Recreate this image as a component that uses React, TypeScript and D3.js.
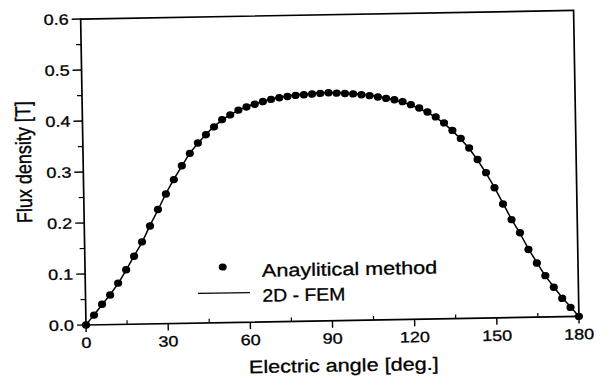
import React from "react";
import * as d3 from "d3";

const angles: number[] = d3.range(0, 181, 3);
const analytical: number[] = [
  0.0, 0.019, 0.04, 0.058, 0.081, 0.107, 0.133, 0.161, 0.192, 0.224, 0.254,
  0.282, 0.309, 0.333, 0.353, 0.369, 0.384, 0.398, 0.407, 0.416, 0.422,
  0.427, 0.432, 0.436, 0.439, 0.441, 0.443, 0.444, 0.445, 0.446, 0.447,
  0.446, 0.445, 0.444, 0.442, 0.44, 0.437, 0.434, 0.431, 0.427, 0.421,
  0.414, 0.406, 0.396, 0.384, 0.369, 0.353, 0.334, 0.311, 0.285, 0.255,
  0.223, 0.192, 0.166, 0.133, 0.106, 0.081, 0.058, 0.036, 0.018, 0.0,
];
const fem: number[] = [
  0.0, 0.02, 0.039, 0.059, 0.08, 0.106, 0.134, 0.16, 0.193, 0.223, 0.255,
  0.283, 0.308, 0.334, 0.352, 0.37, 0.385, 0.397, 0.408, 0.415, 0.423,
  0.428, 0.432, 0.437, 0.44, 0.442, 0.444, 0.445, 0.446, 0.447, 0.447,
  0.447, 0.446, 0.444, 0.443, 0.441, 0.438, 0.435, 0.43, 0.426, 0.42,
  0.413, 0.405, 0.395, 0.383, 0.368, 0.352, 0.333, 0.31, 0.284, 0.256,
  0.224, 0.193, 0.165, 0.134, 0.107, 0.08, 0.059, 0.037, 0.019, 0.0,
];
const xTicks: number[] = [0, 30, 60, 90, 120, 150, 180];
const xMinor: number[] = [15, 45, 75, 105, 135, 165];
const yTicks: number[] = [0, 0.1, 0.2, 0.3, 0.4, 0.5, 0.6];
const yMinor: number[] = [0.05, 0.15, 0.25, 0.35, 0.45, 0.55];
const xTitle = "Electric angle [deg.]";
const yTitle = "Flux density [T]";
const legendLabels = ["Anaylitical method", "2D - FEM"];

const L = 86, B = 325, R = 579, T = 19;
const SX = 1.2;
const FONT = "'Liberation Sans', Arial, Helvetica, sans-serif";

function HText(props: { x: number; y: number; size: number; anchor?: string; sx?: number; children: React.ReactNode }) {
  return (
    <text
      transform={`translate(${props.x},${props.y}) scale(${props.sx ?? SX},1)`}
      fontSize={props.size}
      fontFamily={FONT}
      textAnchor={props.anchor || "start"}
      fill="#000"
      stroke="#000"
      strokeWidth={0.3}
    >
      {props.children}
    </text>
  );
}

export default function App() {
  const x = d3.scaleLinear().domain([0, 180]).range([L, R]);
  const y = d3.scaleLinear().domain([0, 0.6]).range([B, T]);
  const line = d3
    .line<number>()
    .x((_, i) => x(angles[i]))
    .y((d) => y(d));

  return (
    <svg
      width={608}
      height={376}
      style={{ position: "absolute", left: 0, top: 0, background: "#fff" }}
    >
      <rect width={608} height={376} fill="#fff" />
      <g transform={`rotate(-1, ${L}, ${B})`}>
        {/* frame */}
        <rect x={L} y={T} width={R - L} height={B - T} fill="none" stroke="#000" strokeWidth={1.7} />
        {/* y ticks */}
        {yTicks.map((t) => (
          <g key={"y" + t}>
            <line x1={L - 9} x2={L} y1={y(t)} y2={y(t)} stroke="#000" strokeWidth={1.4} />
            <HText x={L - 12} y={y(t) + 5.3} size={15} anchor="end">
              {d3.format(".1f")(t)}
            </HText>
          </g>
        ))}
        {yMinor.map((t) => (
          <line key={"ym" + t} x1={L - 5} x2={L} y1={y(t)} y2={y(t)} stroke="#000" strokeWidth={1.2} />
        ))}
        {/* x ticks */}
        {xTicks.map((t) => (
          <g key={"x" + t}>
            <line x1={x(t)} x2={x(t)} y1={B} y2={B + 7} stroke="#000" strokeWidth={1.4} />
            <HText x={x(t)} y={348} size={15} anchor="middle">
              {t}
            </HText>
          </g>
        ))}
        {xMinor.map((t) => (
          <line key={"xm" + t} x1={x(t)} x2={x(t)} y1={B} y2={B - 4} stroke="#000" strokeWidth={1.2} />
        ))}
        {/* titles */}
        <HText x={343} y={376} size={18} anchor="middle">
          {xTitle}
        </HText>
        <text
          transform={`translate(34,161) rotate(-90) scale(1,${SX})`}
          fontSize={18}
          fontFamily={FONT}
          textAnchor="middle"
          fill="#000"
          stroke="#000"
          strokeWidth={0.3}
        >
          {yTitle}
        </text>
        {/* FEM line */}
        <path d={line(fem) || ""} fill="none" stroke="#000" strokeWidth={1.5} />
        {/* analytical dots */}
        {analytical.map((v, i) => (
          <ellipse key={"d" + i} cx={x(angles[i])} cy={y(v)} rx={4.1} ry={3.7} fill="#000" />
        ))}
        {/* legend */}
        <ellipse cx={223.7} cy={269.4} rx={4} ry={3.6} fill="#000" />
        <HText x={262.8} y={279.8} size={18}>
          {legendLabels[0]}
        </HText>
        <line x1={198.5} x2={250.5} y1={295.4} y2={295.4} stroke="#000" strokeWidth={1.3} />
        <HText x={262.8} y={304.8} size={18} sx={1.08}>
          {legendLabels[1]}
        </HText>
      </g>
    </svg>
  );
}
